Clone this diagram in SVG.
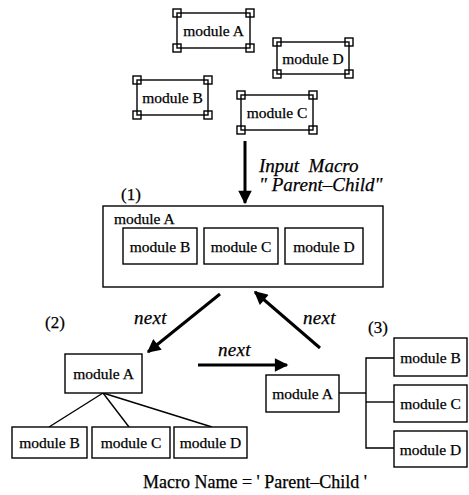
<svg xmlns="http://www.w3.org/2000/svg" width="469" height="495" viewBox="0 0 469 495">
<defs>
<style>
.box{fill:#fff;stroke:#000;stroke-width:1.4}
.h{fill:none;stroke:#000;stroke-width:1.4}
text{font-family:'Liberation Serif','DejaVu Serif',serif;fill:#000;stroke:#000;stroke-width:0.25}
.t{font-size:15.5px;text-anchor:middle}
.st{text-anchor:start}
.lbl{font-size:17px}
.it{font-style:italic;font-size:19px}
.nx{font-style:italic;font-size:19px;letter-spacing:0.3px}
.ln{fill:none;stroke:#000;stroke-width:1.4}
.ar{fill:none;stroke:#000;stroke-width:3}
</style>
<marker id="ah" viewBox="0 0 10 10" refX="9" refY="5" markerWidth="5" markerHeight="4.5" orient="auto" markerUnits="strokeWidth">
<path d="M0,0 L10,5 L0,10 Z" fill="#000"/>
</marker>
</defs>
<rect width="469" height="495" fill="#fff"/>

<g id="top-module-A">
<rect class="box" x="177" y="13" width="73" height="35"/>
<rect class="h" x="173" y="9" width="8" height="8"/><rect class="h" x="246" y="9" width="8" height="8"/>
<rect class="h" x="173" y="44" width="8" height="8"/><rect class="h" x="246" y="44" width="8" height="8"/>
<text class="t" x="213.5" y="36">module A</text>
</g>
<g id="top-module-D">
<rect class="box" x="277" y="42" width="72" height="32"/>
<rect class="h" x="273" y="38" width="8" height="8"/><rect class="h" x="345" y="38" width="8" height="8"/>
<rect class="h" x="273" y="70" width="8" height="8"/><rect class="h" x="345" y="70" width="8" height="8"/>
<text class="t" x="313" y="64">module D</text>
</g>
<g id="top-module-B">
<rect class="box" x="137" y="80" width="71" height="35"/>
<rect class="h" x="133" y="76" width="8" height="8"/><rect class="h" x="204" y="76" width="8" height="8"/>
<rect class="h" x="133" y="111" width="8" height="8"/><rect class="h" x="204" y="111" width="8" height="8"/>
<text class="t" x="172.5" y="103">module B</text>
</g>
<g id="top-module-C">
<rect class="box" x="241" y="95" width="72" height="35"/>
<rect class="h" x="237" y="91" width="8" height="8"/><rect class="h" x="309" y="91" width="8" height="8"/>
<rect class="h" x="237" y="126" width="8" height="8"/><rect class="h" x="309" y="126" width="8" height="8"/>
<text class="t" x="277" y="118">module C</text>
</g>

<g id="labels">
<text class="it" x="259" y="172" xml:space="preserve">Input  Macro</text>
<text class="it" x="259" y="191">" Parent–Child"</text>
<text class="lbl" x="121" y="200">(1)</text>
<text class="lbl" x="45" y="328">(2)</text>
<text class="lbl" x="368" y="333">(3)</text>
<text class="nx" x="134" y="324">next</text>
<text class="nx" x="218" y="356">next</text>
<text class="nx" x="303" y="324">next</text>
<text class="lbl" x="255" y="488" style="text-anchor:middle;font-size:18px">Macro Name = ' Parent–Child '</text>
</g>

<g id="state1">
<rect class="box" x="103" y="206" width="280" height="81"/>
<text class="t st" x="114" y="224">module A</text>
<g id="s1-B"><rect class="box" x="123" y="228" width="74" height="36"/><text class="t" x="160" y="252">module B</text></g>
<g id="s1-C"><rect class="box" x="204" y="228" width="74" height="36"/><text class="t" x="241" y="252">module C</text></g>
<g id="s1-D"><rect class="box" x="285" y="228" width="78" height="36"/><text class="t" x="324" y="252">module D</text></g>
</g>

<g id="connectors">
<line class="ar" x1="245" y1="141" x2="245" y2="203" marker-end="url(#ah)"/>
<line class="ar" x1="220" y1="294" x2="148" y2="352" marker-end="url(#ah)"/>
<line class="ar" x1="198" y1="365" x2="287" y2="365" marker-end="url(#ah)"/>
<line class="ar" x1="320" y1="348" x2="255" y2="292" marker-end="url(#ah)"/>
<line class="ln" x1="103" y1="393" x2="49" y2="427"/>
<line class="ln" x1="103" y1="393" x2="129" y2="427"/>
<line class="ln" x1="103" y1="393" x2="212" y2="427"/>
<polyline class="ln" points="339,393 366,393"/>
<polyline class="ln" points="394,358 366,358 366,448 394,448"/>
<line class="ln" x1="366" y1="402" x2="394" y2="402"/>
</g>

<g id="s2-A"><rect class="box" x="65" y="354" width="77" height="39"/><text class="t" x="103.5" y="379">module A</text></g>
<g id="s2-B"><rect class="box" x="12" y="427" width="75" height="31"/><text class="t" x="49.5" y="448">module B</text></g>
<g id="s2-C"><rect class="box" x="92" y="427" width="78" height="31"/><text class="t" x="131" y="448">module C</text></g>
<g id="s2-D"><rect class="box" x="174" y="427" width="73" height="31"/><text class="t" x="210.5" y="448">module D</text></g>

<g id="s3-A"><rect class="box" x="266" y="375" width="73" height="37"/><text class="t" x="302.5" y="399">module A</text></g>
<g id="s3-B"><rect class="box" x="394" y="338" width="73" height="38"/><text class="t" x="430.5" y="363">module B</text></g>
<g id="s3-C"><rect class="box" x="394" y="385" width="73" height="37"/><text class="t" x="430.5" y="409">module C</text></g>
<g id="s3-D"><rect class="box" x="394" y="431" width="73" height="36"/><text class="t" x="430.5" y="455">module D</text></g>
</svg>
